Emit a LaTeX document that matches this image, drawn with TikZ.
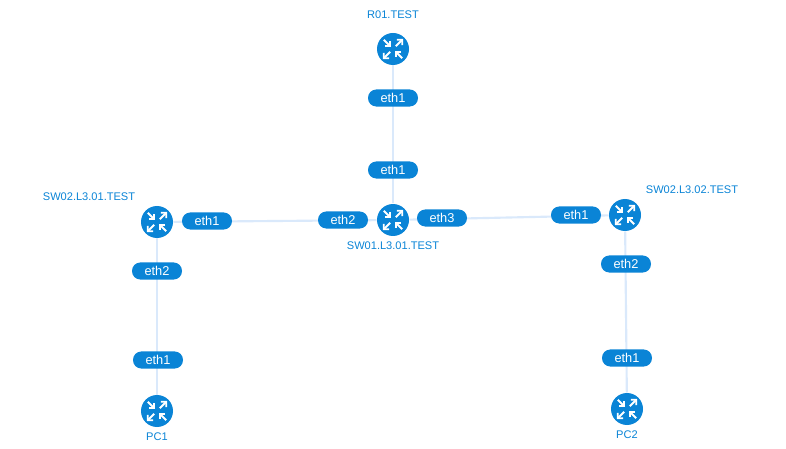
\documentclass[tikz,border=0pt]{standalone}
\usepackage{fontspec}
\setmainfont{Liberation Sans}
\usetikzlibrary{backgrounds}
\definecolor{nodeblue}{HTML}{0A84D6}
\definecolor{linkblue}{HTML}{DAE9FB}
\tikzset{every picture/.style={line width=0.75pt}}
\tikzset{
  router/.style={circle,fill=nodeblue,minimum size=24pt,inner sep=0pt},
  portpill/.style={rounded corners=6.3pt,fill=nodeblue,text=white,minimum width=37.5pt,minimum height=12.8pt,inner sep=0pt,font=\fontsize{9.6}{10}\selectfont},
  hostlabel/.style={text=nodeblue,inner sep=0.75pt,font=\fontsize{8.3}{10}\selectfont},
  link/.style={draw=linkblue,line width=1.6pt},
  arrowicon/.pic={
    \foreach \ang/\rev in {45/0,135/1,225/0,315/1}{
      \begin{scope}[rotate=\ang,white,line width=1.4pt]
        \ifnum\rev=0
          % pointing outwards
          \draw (4,0) -- (13,0);
          \draw (9.2,3.8) -- (13,0) -- (9.2,-3.8);
        \else
          % pointing inwards
          \draw (13,0) -- (4,0);
          \draw (7.8,3.8) -- (4,0) -- (7.8,-3.8);
        \fi
      \end{scope}
    }
  }
}
\begin{document}
\begin{tikzpicture}[x=0.75pt,y=0.75pt,yscale=-1,xscale=1]
\useasboundingbox (0,0) rectangle (786,449);

% routers
\node [router] (r01) at (393,49) {};
\node [router] (sw01) at (393,220) {};
\node [router] (sw0201) at (157,222) {};
\node [router] (sw0202) at (625,215) {};
\node [router] (pc1) at (157,411) {};
\node [router] (pc2) at (627,409) {};
\foreach \n in {r01,sw01,sw0201,sw0202,pc1,pc2}
  \path [yscale=-1] (\n) pic {arrowicon};

% ports
\node [portpill] (r01eth1) at (393,98) {eth1};
\node [portpill] (sw01eth1) at (393,170) {eth1};
\node [portpill] (sw01eth2) at (343,220) {eth2};
\node [portpill] (sw01eth3) at (442,218) {eth3};
\node [portpill] (aeth1) at (207,221) {eth1};
\node [portpill] (beth1) at (576,215) {eth1};
\node [portpill] (aeth2) at (157,271) {eth2};
\node [portpill] (beth2) at (626,264) {eth2};
\node [portpill] (pc1eth1) at (158,360) {eth1};
\node [portpill] (pc2eth1) at (627,358) {eth1};

% labels
\node [hostlabel] (r01label) at (393,15) {R01.TEST};
\node [hostlabel] (sw01label) at (393,245.5) {SW01.L3.01.TEST};
\node [hostlabel] (sw0201label) at (89,196.5) {SW02.L3.01.TEST};
\node [hostlabel] (sw0202label) at (692,189.5) {SW02.L3.02.TEST};
\node [hostlabel] (pc1label) at (157,436.5) {PC1};
\node [hostlabel] (pc2label) at (627,434.5) {PC2};

% links
\begin{pgfonlayer}{background}
\draw [link] (r01) -- (sw01);
\draw [link] (sw01) -- (sw0201);
\draw [link] (sw01) -- (sw0202);
\draw [link] (sw0201) -- (pc1);
\draw [link] (sw0202) -- (pc2);
\end{pgfonlayer}

\end{tikzpicture}
\end{document}
